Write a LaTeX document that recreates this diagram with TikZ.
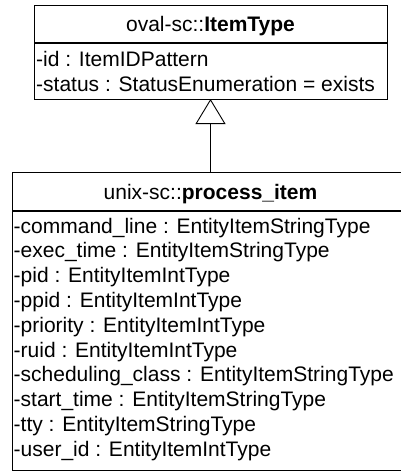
\documentclass[tikz,border=0pt]{standalone}
\usepackage{fontspec}
\setmainfont{Liberation Sans}
\usetikzlibrary{arrows.meta}
\begin{document}
\begin{tikzpicture}[x=1pt,y=1pt,
  classbox/.style={draw,line width=1.2pt,rectangle,inner sep=0pt,anchor=north west},
  sep/.style={line width=1.2pt},
  head/.style={font=\fontsize{21}{25}\selectfont,anchor=base,inner sep=0pt},
  attr/.style={font=\fontsize{21}{25}\selectfont,anchor=base west,inner sep=0pt},
  inherit/.style={line width=0.9pt,-{Triangle[open,length=25pt,width=30pt,line width=0.9pt]}}]
\useasboundingbox (0,0) rectangle (401,-471);
\clip (0,0) rectangle (401,-471);
% superclass
\node[classbox,minimum width=353pt,minimum height=94pt] (super) at (34,-5) {};
\draw[sep] (34,-43) -- (387,-43);
\node[head] (superName) at (210.5,-31.5) {oval-sc::\textbf{ItemType}};
\node[attr] (sa1) at (36,-66) {-id : ItemIDPattern};
\node[attr] (sa2) at (36,-91) {-status : StatusEnumeration = exists};
% subclass
\node[classbox,minimum width=397pt,minimum height=298pt] (sub) at (12,-172) {};
\draw[sep] (12,-211) -- (409,-211);
\node[head] (subName) at (210.5,-199) {unix-sc::\textbf{process\_item}};
\foreach \t [count=\i] in {%
  -command\_line : EntityItemStringType,
  -exec\_time : EntityItemStringType,
  -pid : EntityItemIntType,
  -ppid : EntityItemIntType,
  -priority : EntityItemIntType,
  -ruid : EntityItemIntType,
  -scheduling\_class : EntityItemStringType,
  -start\_time : EntityItemStringType,
  -tty : EntityItemStringType,
  -user\_id : EntityItemIntType}
  \node[attr] (b\i) at (13.5,{-233-24.8*(\i-1)}) {\t};
% generalization
\coordinate (gfoot) at (210.5,-172);
\coordinate (ghead) at (210.5,-99);
\draw[inherit] (gfoot) -- (ghead);
\end{tikzpicture}
\end{document}
